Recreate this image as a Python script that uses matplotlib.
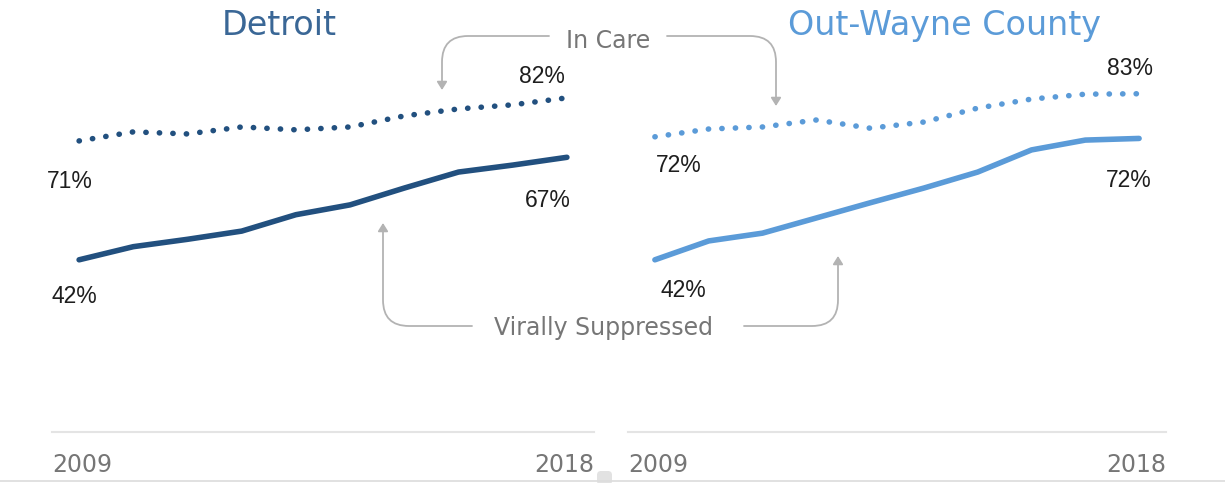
import matplotlib
matplotlib.use('Agg')
import matplotlib.pyplot as plt
from matplotlib.patches import FancyBboxPatch
from matplotlib.lines import Line2D

# ---------------- data ----------------
years = list(range(2009, 2019))
detroit_in_care = [71.0, 73.2, 72.7, 74.4, 73.7, 74.4, 77.1, 78.8, 79.8, 81.5]
detroit_suppressed = [42.0, 45.2, 47.0, 49.0, 53.0, 55.4, 59.5, 63.4, 65.1, 67.0]
wayne_in_care = [72.0, 73.9, 74.4, 76.1, 74.1, 75.6, 79.0, 81.2, 82.4, 82.5]
wayne_suppressed = [42.0, 46.6, 48.5, 52.2, 55.9, 59.5, 63.4, 68.8, 71.2, 71.6]

panel_titles = ['Detroit', 'Out-Wayne County']
tick_labels = ['2009', '2018']
detroit_labels = ['71%', '42%', '82%', '67%']
wayne_labels = ['72%', '42%', '83%', '72%']
annotation_texts = ['In Care', 'Virally Suppressed']

# ---------------- style ----------------
W, H = 1225, 483
DET_LINE = '#22507f'
DET_TITLE = '#3a6796'
OW_LINE = '#5b9bd8'
OW_TITLE = '#5b9bd8'
GRAY_TXT = '#767676'
ARROW = '#b3b3b3'
LABEL_TXT = '#1e1e1e'

fig = plt.figure(figsize=(W / 100, H / 100), dpi=100)


def px_axes(x0, x1, ytop, ybot):
    return fig.add_axes([x0 / W, 1 - ybot / H, (x1 - x0) / W, (ybot - ytop) / H])


def style(ax):
    ax.set_xlim(2008.5, 2018.5)
    ax.set_ylim(0, 100)
    for s in ['top', 'right', 'left']:
        ax.spines[s].set_visible(False)
    ax.spines['bottom'].set_color('#e4e4e4')
    ax.spines['bottom'].set_linewidth(1.5)
    ax.set_yticks([])
    ax.set_xticks([2008.5, 2018.5])
    ax.set_xticklabels(tick_labels)
    ax.tick_params(axis='x', length=0, pad=15, labelsize=17, labelcolor=GRAY_TXT)
    labs = ax.get_xticklabels()
    labs[0].set_ha('left')
    labs[1].set_ha('right')
    ax.patch.set_alpha(0)


def draw(ax, in_care, suppressed, color, labels, offsets):
    ax.plot(years, suppressed, color=color, lw=4.0,
            solid_capstyle='round', solid_joinstyle='round')
    ax.plot(years, in_care, color=color, lw=4.0, linestyle=(0, (0.05, 2.38)),
            dash_capstyle='round')
    pts = [(years[0], in_care[0]), (years[0], suppressed[0]),
           (years[-1], in_care[-1]), (years[-1], suppressed[-1])]
    for lab, p, off in zip(labels, pts, offsets):
        ax.annotate(lab, xy=p, xytext=off, textcoords='offset pixels',
                    ha='center', va='center_baseline', fontsize=16.5,
                    family='Liberation Sans', color=LABEL_TXT)


ax1 = px_axes(52, 594, 22, 432)
ax2 = px_axes(628, 1166, 22, 432)
style(ax1)
style(ax2)

draw(ax1, detroit_in_care, detroit_suppressed, DET_LINE, detroit_labels,
     [(-9, -38), (-5, -34), (-25, 24), (-19, -41)])
draw(ax2, wayne_in_care, wayne_suppressed, OW_LINE, wayne_labels,
     [(24, -26), (28, -28), (-9, 28), (-10, -40)])

# titles
fig.text(279 / W, 1 - 35 / H, panel_titles[0], ha='center', va='baseline',
         fontsize=24, color=DET_TITLE)
fig.text(945 / W, 1 - 35 / H, panel_titles[1], ha='center', va='baseline',
         fontsize=24, color=OW_TITLE)

# overlay for annotations (pixel coordinates, y downward)
ov = fig.add_axes([0, 0, 1, 1])
ov.set_xlim(0, W)
ov.set_ylim(H, 0)
ov.axis('off')
ov.patch.set_alpha(0)

ov.text(608, 39, annotation_texts[0], ha='center', va='center_baseline',
        fontsize=17, color=GRAY_TXT)
ov.text(604, 325, annotation_texts[1], ha='center', va='center_baseline',
        fontsize=17, color=GRAY_TXT)

aprops = dict(arrowstyle='-|>,head_length=0.4,head_width=0.25',
              color=ARROW, lw=1.3, shrinkA=0, shrinkB=0, mutation_scale=12)
for start, tip in [((549, 36), (442, 90)), ((667, 36), (776, 106)),
                   ((472, 326), (383, 223)), ((744, 326), (838, 256))]:
    ov.annotate('', xy=tip, xytext=start,
                arrowprops=dict(connectionstyle='angle,angleA=0,angleB=90,rad=26',
                                **aprops))

# screenshot bottom edge and small scroll nub
ov.add_line(Line2D([0, W], [481, 481], color='#dcdcdc', lw=1.2))
ov.add_patch(FancyBboxPatch((597, 471), 15, 14, boxstyle='round,pad=0,rounding_size=4',
                            fc='#e2e2e2', ec='none'))

fig.savefig('out.png', dpi=100)
